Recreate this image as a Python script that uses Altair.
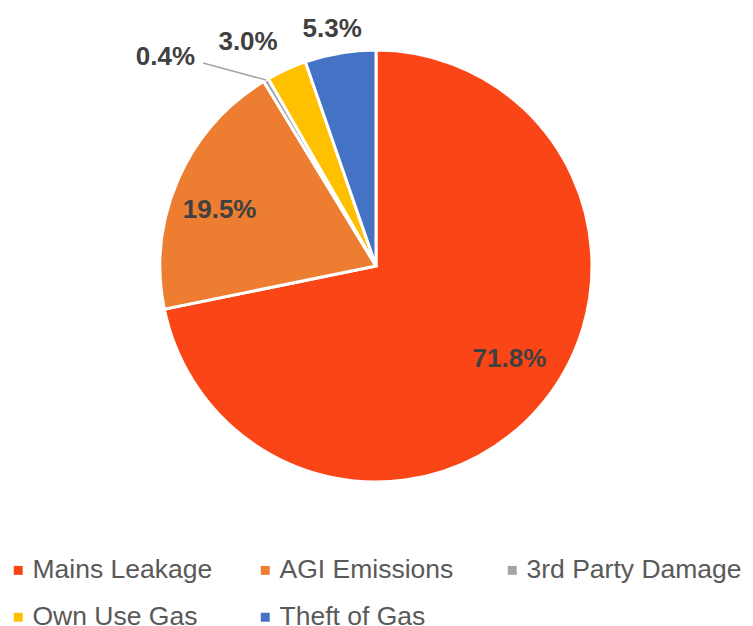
import math
import altair as alt
import pandas as pd

categories = ["Mains Leakage", "AGI Emissions", "3rd Party Damage", "Own Use Gas", "Theft of Gas"]
values = [71.8, 19.5, 0.4, 3.0, 5.3]
labels = ["71.8%", "19.5%", "0.4%", "3.0%", "5.3%"]
colors = ["#FA4616", "#ED7D31", "#A5A5A5", "#FFC000", "#4472C4"]

df = pd.DataFrame({
    "category": categories,
    "value": values,
    "label": labels,
    "order": list(range(len(categories))),
})

W, H = 736, 516
CX, CY = W / 2, H / 2
R = 216
FONT = "Liberation Sans"
theta_scale = alt.Scale(domain=[0, 100])

base = alt.Chart(df)

arcs = base.mark_arc(outerRadius=R, stroke="white", strokeWidth=3).encode(
    theta=alt.Theta("value:Q", stack=True, scale=theta_scale),
    order=alt.Order("order:Q", sort="ascending"),
    color=alt.Color(
        "category:N",
        scale=alt.Scale(domain=categories, range=colors),
        legend=alt.Legend(
            title=None,
            orient="none",
            legendX=-3,
            legendY=549,
            direction="horizontal",
            columns=3,
            gridAlign="all",
            columnPadding=4,
            rowPadding=20,
            symbolType="square",
            symbolSize=80,
            symbolStrokeWidth=0,
            labelFont=FONT,
            labelFontSize=26.5,
            labelColor="#595959",
            labelOffset=1,
            labelLimit=400,
            padding=0,
        ),
    ),
)


def label_layer(cat, radius, dx=0, dy=0):
    return base.transform_filter(alt.datum.category == cat).mark_text(
        radius=radius, dx=dx, dy=dy, font=FONT, fontSize=26, fontWeight="bold",
        color="#404040", align="center", baseline="middle",
    ).encode(
        theta=alt.Theta("mid:Q", scale=theta_scale),
        text="label:N",
    )


lbl_main = label_layer("Mains Leakage", 162, 8, -9)
lbl_agi = label_layer("AGI Emissions", 163, -7, 9)
lbl_own = label_layer("Own Use Gas", 246, -26, 0)
lbl_theft = label_layer("Theft of Gas", 240, -4, 0)

small = base.transform_filter(alt.datum.category == "3rd Party Damage").transform_calculate(
    a="datum.mid / 100 * 2 * PI",
).transform_calculate(
    x1=f"{CX} + {R} * sin(datum.a)",
    y1=f"{CY} - {R} * cos(datum.a)",
).transform_calculate(
    x2="datum.x1 - 63",
    y2="datum.y1 - 17",
)

leader = small.mark_rule(color="#A6A6A6", strokeWidth=1.5).encode(
    x=alt.X("x1:Q", scale=None, axis=None),
    y=alt.Y("y1:Q", scale=None, axis=None),
    x2="x2:Q",
    y2="y2:Q",
)

lbl_small = small.mark_text(
    font=FONT, fontSize=26, fontWeight="bold", color="#404040",
    align="right", baseline="middle", dx=-8, dy=-6,
).encode(
    x=alt.X("x2:Q", scale=None, axis=None),
    y=alt.Y("y2:Q", scale=None, axis=None),
    text="label:N",
)

chart = alt.layer(
    arcs, lbl_main, lbl_agi, lbl_own, lbl_theft, leader, lbl_small
).transform_window(
    cum="sum(value)", sort=[alt.SortField("order", order="ascending")], frame=[None, 0]
).transform_calculate(
    mid="datum.cum - datum.value / 2"
).properties(
    width=W, height=H,
    autosize=alt.AutoSizeParams(type="none"),
    padding={"left": 0, "top": 0, "right": 0, "bottom": 110},
).configure_view(stroke=None)

chart.save("out.html", embed_options={"renderer": "svg", "actions": False})
